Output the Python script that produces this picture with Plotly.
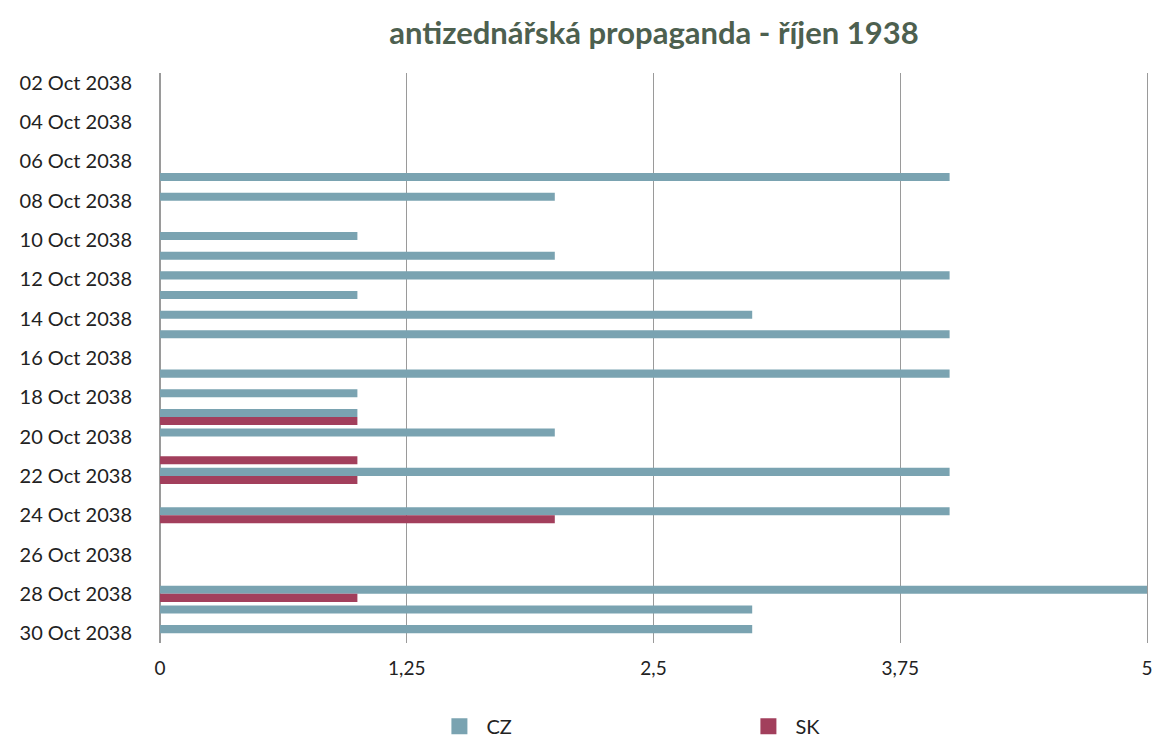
import plotly.graph_objects as go

dates = ["2038-10-07", "2038-10-08", "2038-10-10", "2038-10-11", "2038-10-12",
         "2038-10-13", "2038-10-14", "2038-10-15", "2038-10-17", "2038-10-18",
         "2038-10-19", "2038-10-20", "2038-10-21", "2038-10-22", "2038-10-24",
         "2038-10-28", "2038-10-29", "2038-10-30"]
cz = [4, 2, 1, 2, 4, 1, 3, 4, 4, 1, 1, 2, None, 4, 4, 5, 3, 3]
sk = [None, None, None, None, None, None, None, None, None, None, 1, None, 1, 1, 2, 1, None, None]
x_ticks = [0, 1.25, 2.5, 3.75, 5]
x_labels = ["0", "1,25", "2,5", "3,75", "5"]
series = ["CZ", "SK"]
colors = ["#7aa3b1", "#a23f5c"]

font = "Lato, 'Open Sans', sans-serif"

fig = go.Figure()
for name, vals, col in zip(series, [cz, sk], colors):
    fig.add_trace(go.Bar(name=name, y=dates, x=vals, orientation="h", showlegend=False,
                         marker=dict(color=col, line=dict(width=0))))
for name, col in zip(series, colors):
    fig.add_trace(go.Scatter(name=name, x=[None], y=[None], mode="markers",
                             marker=dict(symbol="square", size=20, color=col)))

fig.update_layout(
    width=1152, height=738,
    paper_bgcolor="white", plot_bgcolor="white",
    separators=", ",
    barmode="group", bargap=0.18, bargroupgap=0,
    margin=dict(l=152, r=13, t=65, b=103, autoexpand=False),
    title=dict(text="<b>antizednářská propaganda - říjen 1938</b>",
               x=646 / 1152, xanchor="center", y=1 - 25 / 738, yanchor="middle",
               font=dict(family=font, size=31, color="#4d604f")),
    font=dict(family=font, color="#222"),
    xaxis=dict(range=[0, 5], tickvals=x_ticks, ticktext=x_labels,
               showgrid=True, gridcolor="#9a9a9a", gridwidth=1,
               zeroline=True, zerolinecolor="#9a9a9a", zerolinewidth=1,
               showline=False, ticks="", ticklabelstandoff=12,
               ticklabeloverflow="allow",
               tickfont=dict(size=19, color="#222")),
    yaxis=dict(type="date", autorange=False,
               range=["2038-10-30 12:00", "2038-10-01 12:00"],
               tick0="2038-10-02", dtick=2 * 86400000, tickformat="%d %b %Y",
               showgrid=False, showline=True, linecolor="#9a9a9a", linewidth=1,
               mirror=True, zeroline=False, ticks="",
               ticklabelstandoff=23,
               tickfont=dict(size=20, color="#222")),
    legend=dict(orientation="h", x=0.276, xanchor="left", y=-0.112, yanchor="top",
                entrywidth=250, itemsizing="trace", itemwidth=44,
                font=dict(family=font, size=20, color="#222"),
                traceorder="normal"),
)

fig.write_html("out.html")
